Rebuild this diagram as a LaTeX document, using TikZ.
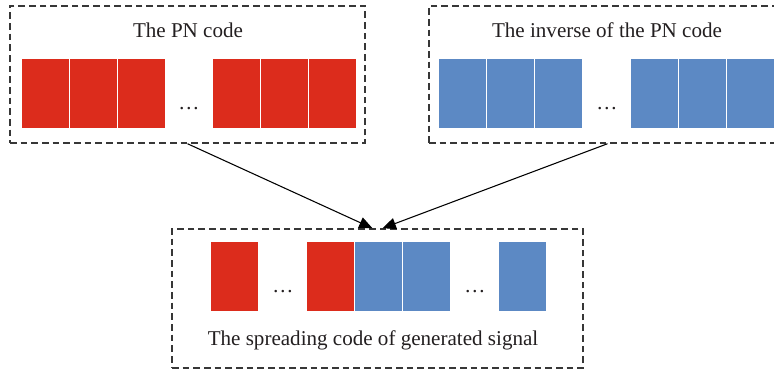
\documentclass[tikz,border=0pt]{standalone}
\usepackage{fontspec}
\setmainfont{Liberation Serif}
\usetikzlibrary{fit,arrows.meta}
\definecolor{pnred}{RGB}{220,44,28}
\definecolor{pnblue}{RGB}{92,137,196}
\definecolor{txt}{RGB}{35,31,32}
\definecolor{dashc}{RGB}{55,55,55}
\tikzset{
  x=0.75pt, y=-0.75pt,
  dashbox/.style={draw=dashc, line width=1.1pt, dash pattern=on 5pt off 3pt, inner sep=0pt},
  cell/.style={draw=white, line width=0.6pt, inner sep=0pt, minimum width={48*0.75pt}, minimum height={70*0.75pt}},
  redcell/.style={cell, fill=pnred},
  bluecell/.style={cell, fill=pnblue},
  lbl/.style={font=\fontsize{15.8pt}{18pt}\selectfont, text=txt, anchor=base, inner sep=0pt},
  dotlbl/.style={font=\fontsize{15.8pt}{18pt}\selectfont, text=txt, anchor=base, inner sep=0pt},
  arr/.style={draw=black, line width=0.8pt, -{Triangle[length=10pt,width=8.5pt]}}
}
\begin{document}
\begin{tikzpicture}
\clip (0,0) rectangle (774,375);
\useasboundingbox (0,0) rectangle (774,375);
% top-left box
\node[dashbox, fit={(10,6) (365,143)}] (pn) {};
\node[lbl] (pnt) at (188,37) {The PN code};
\node[redcell] (r1) at (45,93) {};
\node[redcell] (r2) at (93,93) {};
\node[redcell] (r3) at (141,93) {};
\node[dotlbl] (rd) at (189,109) {\dots};
\node[redcell] (r4) at (236,93) {};
\node[redcell] (r5) at (284,93) {};
\node[redcell] (r6) at (332,93) {};
% top-right box
\node[dashbox, fit={(429,6) (786,143)}] (inv) {};
\node[lbl] (invt) at (607,37) {The inverse of the PN code};
\node[bluecell] (b1) at (462,93) {};
\node[bluecell] (b2) at (510,93) {};
\node[bluecell] (b3) at (558,93) {};
\node[dotlbl] (bd) at (607,109) {\dots};
\node[bluecell] (b4) at (654,93) {};
\node[bluecell] (b5) at (702,93) {};
\node[bluecell] (b6) at (750,93) {};
% bottom box
\node[dashbox, fit={(172,229) (583,368)}] (out) {};
\node[redcell] (o1) at (234,276.5) {};
\node[dotlbl] (od1) at (283,292) {\dots};
\node[redcell] (o2) at (330,276.5) {};
\node[bluecell] (o3) at (378,276.5) {};
\node[bluecell] (o4) at (426,276.5) {};
\node[dotlbl] (od2) at (475,292) {\dots};
\node[bluecell] (o5) at (522,276.5) {};
\node[lbl] (outt) at (373,345) {The spreading code of generated signal};
% arrows
\draw[arr] (pn.south) -- ([xshift=-3.75pt]out.north);
\draw[arr] (inv.south) -- ([xshift=3.75pt]out.north);
\end{tikzpicture}
\end{document}
